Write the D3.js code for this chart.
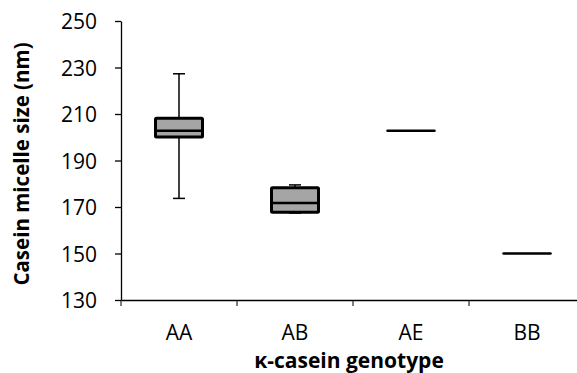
<!DOCTYPE html>
<html>
<head>
<meta charset="utf-8">
<script src="https://cdn.jsdelivr.net/npm/d3@7"></script>
<style>
  body { margin: 0; background: #fff; }
  svg text { font-family: "Open Sans", sans-serif; fill: #000; }
</style>
</head>
<body>
<div id="chart"></div>
<script>
// datos
const genotypes = ["AA", "AB", "AE", "BB"];
const whiskerMin = [173.7, 167.4, 202.8, 150];
const q1 = [200.1, 167.7, 202.8, 150];
const median = [202.8, 171.7, 202.8, 150];
const q3 = [208.2, 178.3, 202.8, 150];
const whiskerMax = [227.3, 179.5, 202.8, 150];
const yTicks = [130, 150, 170, 190, 210, 230, 250];

const data = genotypes.map((g, i) => ({
  g, min: whiskerMin[i], q1: q1[i], med: median[i], q3: q3[i], max: whiskerMax[i]
}));

const W = 577, H = 373;
const svg = d3.select("#chart").append("svg")
  .attr("width", W).attr("height", H);

const x = d3.scaleBand().domain(genotypes).range([121, 585]).padding(0);
const y = d3.scaleLinear().domain([130, 250]).range([300, 21]);

// ejes
const gy = svg.append("g").attr("transform", "translate(121,0)")
  .call(d3.axisLeft(y).tickValues(yTicks).tickSize(6).tickSizeOuter(0).tickPadding(18));
gy.selectAll("text").style("font-size", "21px").attr("dy", "0.36em");

const gx = svg.append("g").attr("transform", "translate(0,300)")
  .call(d3.axisBottom(x).tickSize(0).tickSizeOuter(0).tickPadding(0));
gx.selectAll("text").style("font-size", "21px").attr("dy", 0).attr("y", 40);

// ticks entre categorías
svg.selectAll(".xt").data(genotypes).enter().append("line")
  .attr("x1", d => x(d)).attr("x2", d => x(d))
  .attr("y1", 300).attr("y2", 306)
  .attr("stroke", "#000");

svg.selectAll(".domain, .tick line").attr("stroke", "#000").attr("stroke-width", 1.3);

const bw = 47, cap = 12;
const box = svg.append("g").selectAll("g").data(data).enter().append("g")
  .attr("transform", d => `translate(${x(d.g) + x.bandwidth() / 2},0)`);

box.filter(d => d.max > d.min).append("line")
  .attr("x1", 0).attr("x2", 0)
  .attr("y1", d => y(d.max)).attr("y2", d => y(d.min))
  .attr("stroke", "#000").attr("stroke-width", 1.5);

box.filter(d => d.max > d.min).selectAll(".cap")
  .data(d => [d.min, d.max]).enter().append("line")
  .attr("x1", -cap / 2).attr("x2", cap / 2)
  .attr("y1", v => y(v)).attr("y2", v => y(v))
  .attr("stroke", "#000").attr("stroke-width", 1.5);

box.append("rect")
  .attr("x", -bw / 2).attr("width", bw)
  .attr("y", d => y(d.q3)).attr("height", d => y(d.q1) - y(d.q3))
  .attr("fill", "#a5a5a5").attr("stroke", "#000").attr("stroke-width", 3)
  .attr("rx", 1);

box.append("line")
  .attr("x1", -bw / 2).attr("x2", bw / 2)
  .attr("y1", d => y(d.med)).attr("y2", d => y(d.med))
  .attr("stroke", "#000").attr("stroke-width", 2.5)
  .attr("stroke-linecap", "round");

// títulos
svg.append("text")
  .attr("x", 349).attr("y", 368)
  .attr("text-anchor", "middle")
  .style("font-size", "21px").style("font-weight", "bold")
  .text("κ-casein genotype");

svg.append("text")
  .attr("transform", "translate(29,164) rotate(-90)")
  .attr("text-anchor", "middle")
  .style("font-size", "20.5px").style("font-weight", "bold")
  .text("Casein micelle size (nm)");
</script>
</body>
</html>
